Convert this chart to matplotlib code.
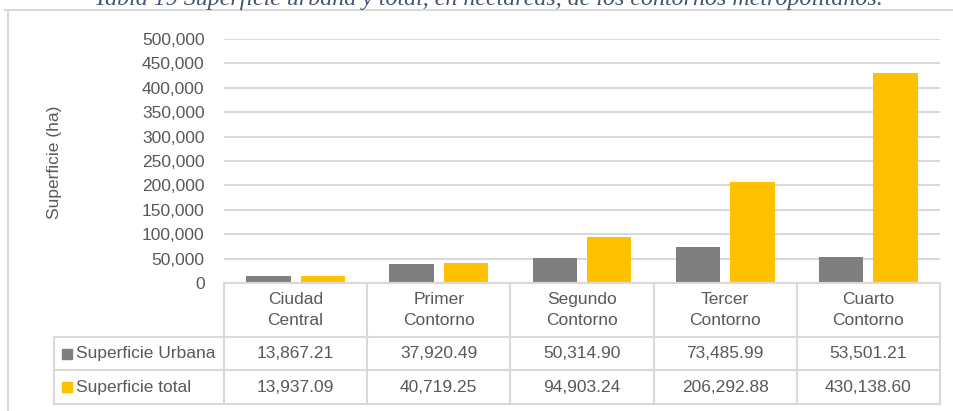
import matplotlib
matplotlib.use("Agg")
import numpy as np
import matplotlib.pyplot as plt
import matplotlib.patheffects as pe
from matplotlib.lines import Line2D
from matplotlib.transforms import blended_transform_factory

# datos
categorias = ["Ciudad\nCentral", "Primer\nContorno", "Segundo\nContorno",
              "Tercer\nContorno", "Cuarto\nContorno"]
sup_urbana = [13867.21, 37920.49, 50314.90, 73485.99, 53501.21]
sup_total = [13937.09, 40719.25, 94903.24, 206292.88, 430138.60]
series = ["Superficie Urbana", "Superficie total"]
colores = ["#7F7F7F", "#FFC000"]
yticks = np.arange(0, 500001, 50000)
titulo = "Tabla 19 Superficie urbana y total, en hectáreas, de los contornos metropolitanos."

plt.rcParams["font.family"] = ["Liberation Sans", "DejaVu Sans"]
TXT = "#595959"
GRID = "#D9D9D9"
FS = 12.5

W, H = 954, 411
fig = plt.figure(figsize=(W / 100, H / 100), dpi=100)
ax = fig.add_axes([224 / W, (H - 283) / H, (940 - 224) / W, 244 / H])

x = np.arange(len(categorias))
ancho = 0.31
sombra = [pe.SimplePatchShadow(offset=(0, -1.5), shadow_rgbFace="#000000", alpha=0.25), pe.Normal()]
for vals, col, off in zip([sup_urbana, sup_total], colores, [-0.19, 0.19]):
    bars = ax.bar(x + off, vals, width=ancho, color=col, zorder=3)
    for b in bars:
        b.set_path_effects(sombra)

ax.set_xlim(-0.5, len(categorias) - 0.5)
ax.set_ylim(0, 500000)
ax.set_yticks(yticks)
ax.set_yticklabels([f"{v:,.0f}" for v in yticks])
ax.tick_params(axis="y", length=0, pad=14, labelsize=FS, labelcolor=TXT)
ax.set_xticks([])
ax.grid(axis="y", color=GRID, lw=1.5, zorder=0)
for s in ax.spines.values():
    s.set_visible(False)

fig.text(55 / W, 1 - 162 / H, "Superficie (ha)", rotation=90, ha="center",
         va="center", fontsize=FS, color=TXT)

# tabla de datos debajo del grafico
tr = blended_transform_factory(ax.transData, ax.transAxes)
y_head, y_r1, y_r2 = -0.221, -0.357, -0.496
x_izq = -0.5 - 170 / 143.2
bordes = np.arange(len(categorias) + 1) - 0.5
kw = dict(color=GRID, lw=1.5, transform=tr, clip_on=False, zorder=4)
ax.plot([-0.5, bordes[-1]], [0, 0], **kw)
for yy in [y_head, y_r1, y_r2]:
    ax.plot([x_izq, bordes[-1]], [yy, yy], **kw)
for bx in bordes:
    ax.plot([bx, bx], [0, y_r2], **kw)
ax.plot([x_izq, x_izq], [y_head, y_r2], **kw)

for i, cat in enumerate(categorias):
    ax.text(i, y_head / 2, cat, transform=tr, ha="center", va="center",
            fontsize=FS, color=TXT, linespacing=1.45)

for fila, (nombre, vals, col) in enumerate(zip(series, [sup_urbana, sup_total], colores)):
    yc = (y_head + y_r1) / 2 if fila == 0 else (y_r1 + y_r2) / 2
    ax.plot([-0.5 - 157 / 143.2], [yc], marker="s", ms=7.5, color=col,
            transform=tr, clip_on=False, ls="none")
    ax.text(-0.5 - 148 / 143.2, yc, nombre, transform=tr, ha="left", va="center",
            fontsize=FS, color=TXT)
    for i, v in enumerate(vals):
        ax.text(i, yc, f"{v:,.2f}", transform=tr, ha="center", va="center",
                fontsize=FS, color=TXT)

# marco del grafico
fig.add_artist(Line2D([8 / W, 8 / W], [0, 1 - 10 / H], color=GRID, lw=1.5,
                      transform=fig.transFigure))
fig.add_artist(Line2D([5 / W, 1], [1 - 10 / H, 1 - 10 / H], color=GRID, lw=1.5,
                      transform=fig.transFigure))

fig.text(488 / W, 1 - 5 / H, titulo, ha="center", va="baseline",
         family=["Liberation Serif", "DejaVu Serif"], style="italic",
         fontsize=17.3, color="#44546A")

fig.savefig("out.png", dpi=100)
